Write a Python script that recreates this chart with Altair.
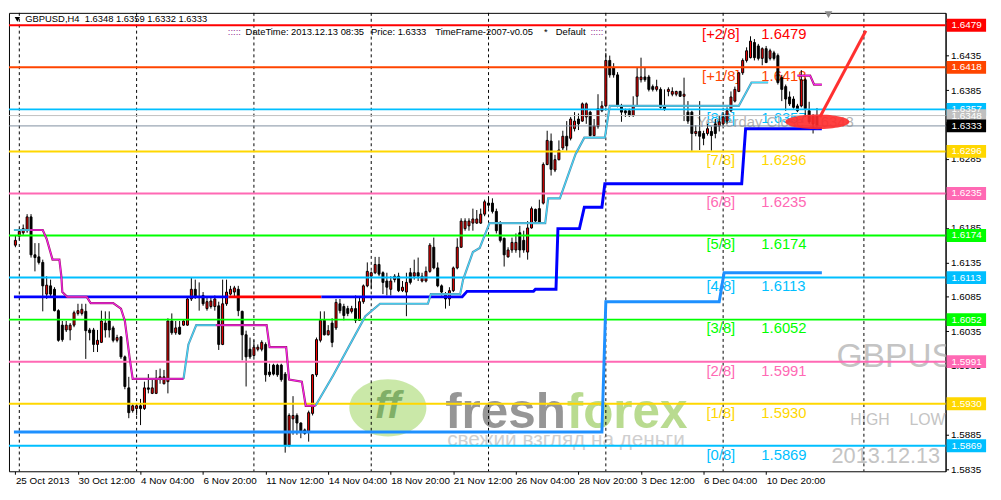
import altair as alt
import pandas as pd

# ---------------- data ----------------
opens = [
1.6160,1.6173,1.6178,1.6181,1.6201,1.6146,1.6143,1.6135,1.6089,1.6101,
1.6096,1.6065,1.6044,1.6037,1.6037,1.6044,1.6061,1.6061,1.6064,1.6037,
1.6037,1.6016,1.6019,1.6047,1.6050,1.6040,1.6022,1.6027,1.5998,1.5953,
1.5920,1.5923,1.5927,1.5923,1.5953,1.5945,1.5945,1.5965,1.5959,1.5962,
1.6050,1.6033,1.6041,1.6044,1.6044,1.6082,1.6096,1.6085,1.6087,1.6068,
1.6071,1.6071,1.6072,1.6016,1.6075,1.6089,1.6092,1.6096,1.6064,1.6030,
1.6009,1.6000,1.6009,1.6009,1.6016,1.5976,1.5986,1.5986,1.5986,1.5973,
1.5870,1.5908,1.5913,1.5902,1.5892,1.5889,1.5916,1.5972,1.6022,1.6051,
1.6030,1.6047,1.6040,1.6075,1.6071,1.6068,1.6064,1.6068,1.6051,1.6078,
1.6101,1.6115,1.6120,1.6132,1.6120,1.6108,1.6096,1.6110,1.6115,1.6094,
1.6092,1.6120,1.6115,1.6120,1.6108,1.6108,1.6122,1.6157,1.6127,1.6101,
1.6089,1.6082,1.6094,1.6127,1.6157,1.6184,1.6188,1.6192,1.6192,1.6192,
1.6205,1.6221,1.6221,1.6209,1.6191,1.6170,1.6143,1.6153,1.6153,1.6178,
1.6167,1.6150,1.6185,1.6212,1.6213,1.6221,1.6277,1.6311,1.6269,1.6284,
1.6301,1.6318,1.6315,1.6329,1.6343,1.6340,1.6346,1.6353,1.6319,1.6332,
1.6355,1.6362,1.6428,1.6417,1.6407,1.6362,1.6355,1.6355,1.6348,1.6376,
1.6400,1.6404,1.6404,1.6390,1.6386,1.6386,1.6362,1.6383,1.6379,1.6379,
1.6383,1.6376,1.6353,1.6353,1.6322,1.6325,1.6322,1.6322,1.6325,1.6336,
1.6333,1.6336,1.6340,1.6355,1.6369,1.6383,1.6410,1.6428,1.6432,1.6454,
1.6449,1.6431,1.6445,1.6431,1.6439,1.6435,1.6403,1.6390,1.6375,1.6372,
1.6362,1.6362,1.6400,1.6355,1.6336,1.6348]

highs = [
1.6174,1.6184,1.6190,1.6205,1.6205,1.6163,1.6163,1.6139,1.6115,1.6110,
1.6099,1.6067,1.6050,1.6050,1.6047,1.6065,1.6075,1.6075,1.6075,1.6040,
1.6040,1.6037,1.6065,1.6064,1.6064,1.6043,1.6030,1.6028,1.6000,1.5969,
1.5931,1.5931,1.5937,1.5962,1.5973,1.5965,1.5979,1.5981,1.5979,1.6054,
1.6061,1.6050,1.6050,1.6051,1.6085,1.6113,1.6110,1.6106,1.6092,1.6085,
1.6085,1.6087,1.6078,1.6110,1.6110,1.6101,1.6101,1.6101,1.6065,1.6036,
1.6026,1.6022,1.6016,1.6022,1.6019,1.5988,1.5988,1.5988,1.5988,1.5976,
1.5916,1.5941,1.5916,1.5903,1.5894,1.5920,1.5973,1.6026,1.6064,1.6064,
1.6044,1.6054,1.6082,1.6082,1.6075,1.6072,1.6072,1.6087,1.6085,1.6103,
1.6135,1.6122,1.6143,1.6143,1.6122,1.6120,1.6115,1.6118,1.6120,1.6108,
1.6120,1.6127,1.6139,1.6142,1.6120,1.6129,1.6163,1.6171,1.6135,1.6103,
1.6092,1.6099,1.6129,1.6170,1.6199,1.6199,1.6199,1.6213,1.6211,1.6213,
1.6226,1.6231,1.6228,1.6213,1.6195,1.6171,1.6157,1.6171,1.6177,1.6188,
1.6181,1.6195,1.6216,1.6213,1.6226,1.6280,1.6326,1.6322,1.6291,1.6312,
1.6326,1.6340,1.6346,1.6353,1.6351,1.6367,1.6367,1.6355,1.6343,1.6379,
1.6369,1.6439,1.6435,1.6424,1.6411,1.6365,1.6358,1.6358,1.6376,1.6417,
1.6432,1.6417,1.6407,1.6393,1.6400,1.6389,1.6386,1.6389,1.6389,1.6384,
1.6384,1.6403,1.6369,1.6355,1.6334,1.6369,1.6326,1.6336,1.6332,1.6343,
1.6348,1.6353,1.6360,1.6383,1.6390,1.6411,1.6431,1.6447,1.6463,1.6459,
1.6452,1.6447,1.6449,1.6445,1.6442,1.6438,1.6407,1.6393,1.6383,1.6376,
1.6365,1.6414,1.6403,1.6368,1.6350,1.6359]

lows = [
1.6157,1.6168,1.6175,1.6178,1.6142,1.6122,1.6132,1.6064,1.6082,1.6085,
1.6064,1.6020,1.6020,1.6034,1.6022,1.6041,1.6058,1.6058,1.5995,1.6022,
1.6005,1.6005,1.6018,1.6026,1.6026,1.6019,1.6019,1.5995,1.5951,1.5909,
1.5917,1.5913,1.5899,1.5921,1.5945,1.5944,1.5944,1.5959,1.5958,1.5945,
1.6030,1.6030,1.6030,1.6043,1.6043,1.6079,1.6082,1.6065,1.6072,1.6065,
1.6068,1.6065,1.6008,1.6015,1.6072,1.6087,1.6085,1.6057,1.5993,1.5955,
1.5995,1.5998,1.6006,1.6006,1.5962,1.5969,1.5971,1.5969,1.5962,1.5859,
1.5867,1.5885,1.5885,1.5880,1.5885,1.5875,1.5913,1.5969,1.6019,1.6029,
1.6029,1.6012,1.6037,1.6061,1.6051,1.6057,1.6061,1.6047,1.6050,1.6075,
1.6099,1.6096,1.6118,1.6115,1.6089,1.6087,1.6087,1.6106,1.6092,1.6092,
1.6057,1.6103,1.6110,1.6108,1.6106,1.6106,1.6120,1.6125,1.6099,1.6087,
1.6068,1.6072,1.6092,1.6125,1.6156,1.6181,1.6181,1.6181,1.6191,1.6191,
1.6202,1.6213,1.6206,1.6177,1.6164,1.6129,1.6142,1.6149,1.6149,1.6142,
1.6149,1.6139,1.6184,1.6192,1.6191,1.6219,1.6276,1.6261,1.6266,1.6283,
1.6298,1.6297,1.6312,1.6325,1.6327,1.6339,1.6336,1.6318,1.6318,1.6329,
1.6353,1.6360,1.6403,1.6403,1.6360,1.6339,1.6346,1.6346,1.6346,1.6362,
1.6396,1.6397,1.6383,1.6383,1.6383,1.6358,1.6355,1.6376,1.6376,1.6376,
1.6375,1.6340,1.6336,1.6297,1.6318,1.6298,1.6305,1.6319,1.6297,1.6315,
1.6325,1.6333,1.6336,1.6353,1.6367,1.6382,1.6407,1.6425,1.6431,1.6428,
1.6428,1.6421,1.6424,1.6428,1.6428,1.6393,1.6369,1.6355,1.6362,1.6358,
1.6353,1.6360,1.6346,1.6336,1.6322,1.6332]

closes = [
1.6167,1.6180,1.6184,1.6201,1.6146,1.6142,1.6135,1.6101,1.6102,1.6089,
1.6065,1.6022,1.6023,1.6044,1.6044,1.6062,1.6065,1.6067,1.6036,1.6033,
1.6016,1.6022,1.6050,1.6037,1.6037,1.6022,1.6026,1.5998,1.5955,1.5917,
1.5927,1.5927,1.5923,1.5953,1.5951,1.5953,1.5967,1.5969,1.5969,1.6050,
1.6033,1.6040,1.6031,1.6050,1.6082,1.6096,1.6085,1.6084,1.6075,1.6078,
1.6079,1.6082,1.6016,1.6075,1.6092,1.6096,1.6098,1.6065,1.6030,1.5998,
1.5998,1.6012,1.6012,1.6019,1.5972,1.5972,1.5973,1.5972,1.5965,1.5870,
1.5913,1.5913,1.5902,1.5889,1.5887,1.5917,1.5972,1.6023,1.6051,1.6030,
1.6036,1.6019,1.6077,1.6065,1.6058,1.6061,1.6068,1.6051,1.6078,1.6101,
1.6122,1.6120,1.6132,1.6118,1.6106,1.6099,1.6108,1.6115,1.6094,1.6099,
1.6106,1.6106,1.6120,1.6115,1.6115,1.6122,1.6160,1.6127,1.6101,1.6092,
1.6082,1.6094,1.6127,1.6157,1.6195,1.6195,1.6195,1.6198,1.6198,1.6205,
1.6223,1.6218,1.6209,1.6181,1.6167,1.6146,1.6153,1.6164,1.6164,1.6153,
1.6153,1.6185,1.6213,1.6195,1.6192,1.6277,1.6312,1.6270,1.6284,1.6298,
1.6318,1.6304,1.6343,1.6340,1.6336,1.6365,1.6365,1.6319,1.6333,1.6358,
1.6362,1.6428,1.6407,1.6407,1.6362,1.6353,1.6352,1.6348,1.6362,1.6404,
1.6404,1.6400,1.6386,1.6386,1.6390,1.6360,1.6358,1.6386,1.6383,1.6383,
1.6376,1.6379,1.6340,1.6322,1.6325,1.6318,1.6315,1.6329,1.6319,1.6322,
1.6339,1.6346,1.6355,1.6375,1.6386,1.6410,1.6428,1.6442,1.6456,1.6432,
1.6431,1.6445,1.6425,1.6442,1.6431,1.6396,1.6386,1.6372,1.6365,1.6360,
1.6355,1.6400,1.6358,1.6339,1.6347,1.6333]

x_labels = ["25 Oct 2013", "30 Oct 12:00", "4 Nov 04:00", "6 Nov 20:00", "11 Nov 12:00",
            "14 Nov 04:00", "18 Nov 20:00", "21 Nov 12:00", "26 Nov 04:00", "28 Nov 20:00",
            "3 Dec 12:00", "6 Dec 04:00", "10 Dec 20:00"]
x_label_bars = [0, 16, 32, 48, 64, 80, 96, 112, 128, 144, 160, 176, 192]
y_ticks = [1.5835, 1.5885, 1.5935, 1.5985, 1.6035, 1.6085, 1.6135, 1.6185, 1.6235,
           1.6285, 1.6335, 1.6385, 1.6435, 1.6485]
grid_bars = [1, 31, 61, 91, 121, 151, 181, 217]

levels = [1.6479, 1.6418, 1.6357, 1.6296, 1.6235, 1.6174, 1.6113, 1.6052, 1.5991, 1.5930, 1.5869]
level_names = ["[+2/8]", "[+1/8]", "[8/8]", "[7/8]", "[6/8]", "[5/8]", "[4/8]", "[3/8]", "[2/8]", "[1/8]", "[0/8]"]
level_colors = ["#ff0000", "#ff4500", "#00bfff", "#ffd700", "#ff69b4", "#00ff00",
                "#00bfff", "#00ff00", "#ff69b4", "#ffd700", "#00bfff"]

yesterday_close = 1.6348
last_price = 1.6333

# thick pivot line (blue / red part) and dodger-blue line
pivot_a_bars = [-0.375, 54.5]
pivot_a_prices = [1.6085, 1.6085]
pivot_red_bars = [54.5, 78.25]
pivot_red_prices = [1.6085, 1.6085]
pivot_b_bars = [78.25, 114.25, 115.5, 132.5, 133, 138.25, 138.75, 144.25, 145.5, 150, 150.75, 185.75, 186.75, 206.25]
pivot_b_prices = [1.6085, 1.6085, 1.6093, 1.6093, 1.6096, 1.6096, 1.6184, 1.6184, 1.6215, 1.6215, 1.6249, 1.6249, 1.6329, 1.6329]
dodger_bars = [-0.375, 150, 151, 180, 181.25, 206.25]
dodger_prices = [1.5889, 1.5889, 1.6078, 1.6078, 1.6120, 1.6120]

# thin trailing lines (cyan = support, magenta = resistance)
cyan1_bars = [-0.375, 3.75]
cyan1_prices = [1.6182, 1.6182]
cyan2_bars = [43, 44.25, 46.25, 51.25]
cyan2_prices = [1.5966, 1.6016, 1.6044, 1.6044]
cyan3_bars = [76.75, 81.25, 89.5, 93.25, 105.5, 106.25, 113.75, 114.5, 117, 118.75, 121.25, 135.5,
              136.25, 139.25, 143.25, 145.5, 150.75, 152, 185, 188.25, 192.5]
cyan3_prices = [1.5927, 1.5971, 1.6057, 1.6075, 1.6075, 1.6089, 1.6089, 1.6110, 1.6150, 1.6156, 1.6192, 1.6192,
                1.6228, 1.6228, 1.6292, 1.6316, 1.6316, 1.6362, 1.6362, 1.6396, 1.6396]
mag1_bars = [3.75, 7, 8, 9.5, 11.25, 11.75, 12, 13.25, 18.25, 19.25, 25, 27, 28, 29.25, 30, 43]
mag1_prices = [1.6182, 1.6182, 1.6169, 1.6139, 1.6139, 1.6115, 1.6092, 1.6085, 1.6085, 1.6076, 1.6076,
               1.6068, 1.6050, 1.5995, 1.5966, 1.5966]
mag2_bars = [51.25, 64.25, 65, 69.25, 70, 73.25, 74.25, 76.75]
mag2_prices = [1.6044, 1.6044, 1.6012, 1.6012, 1.5965, 1.5962, 1.5927, 1.5927]
mag3_bars = [200, 203.25, 204.25, 206.25]
mag3_prices = [1.6406, 1.6406, 1.6393, 1.6393]

# hand-drawn annotation: arrow stroke and ellipse
arrow_bars = [205.75, 217.5]
arrow_prices = [1.6346, 1.6471]
ellipse_bar = [205.1]
ellipse_price = [1.6339]

# ---------------- layout ----------------
W, H = 948, 464
xs = alt.Scale(domain=[-0.375, 236.625], nice=False, zero=False)
ys = alt.Scale(domain=[1.5832, 1.6497], nice=False, zero=False)
FONT = "Liberation Sans"


def PX(X):
    return X - 3.5


def PY(Y):
    return 12.56 + (Y - 19) * 0.9852


label_expr = "[" + ",".join("'" + s + "'" for s in x_labels) + "][round(datum.value / 16)]"
x_axis = alt.Axis(values=x_label_bars, labelExpr=label_expr, labelAlign="left", labelFlush=False,
                  labelOverlap=False, tickSize=3, labelPadding=1, labelFontSize=10, labelFont=FONT,
                  labelColor="black", tickColor="black", domain=False, grid=False, title=None)
y_axis = alt.Axis(orient="right", values=y_ticks, format=".4f", tickSize=3, labelPadding=2,
                  labelFontSize=10, labelFont=FONT, labelColor="black", tickColor="black",
                  domainColor="black", grid=False, labelOverlap=False, labelFlush=False, title=None)


def XE(field):
    return alt.X(field, type="quantitative", scale=xs, axis=x_axis, title=None)


def YE(field):
    return alt.Y(field, type="quantitative", scale=ys, axis=y_axis, title=None)


one = pd.DataFrame({"t": [""]})


def label(text, X, Y, size, color, align="left", baseline="middle", weight="normal",
          opacity=1.0, clip=False, style="normal"):
    return alt.Chart(pd.DataFrame({"t": [text]})).mark_text(
        align=align, baseline=baseline, fontSize=size, color=color, font=FONT,
        fontWeight=weight, opacity=opacity, clip=clip, fontStyle=style
    ).encode(text="t:N", x=alt.value(PX(X)), y=alt.value(PY(Y)))


def poly(bars, prices, color, width, opacity=1.0):
    d = pd.DataFrame({"i": bars, "p": prices, "k": list(range(len(bars)))})
    return alt.Chart(d).mark_line(color=color, strokeWidth=width, opacity=opacity, clip=True).encode(
        x=XE("i"), y=YE("p"), order="k:Q")


layers = []

# candles first (carry the axes)
cdf = pd.DataFrame({"i": list(range(len(opens))), "o": opens, "h": highs, "l": lows, "c": closes})
wicks = alt.Chart(cdf).mark_rule(color="black", strokeWidth=1).encode(x=XE("i"), y=YE("l"), y2="h:Q")
bodies = alt.Chart(cdf).mark_bar(size=2, stroke="black", strokeWidth=1).encode(
    x=XE("i"), y=YE("o"), y2="c:Q",
    fill=alt.condition("datum.c > datum.o", alt.value("#ff0000"), alt.value("#000000")))

# watermarks
layers.append(label("GBPUSD", 841, 360, 34, "#c4c4c4", clip=True))
layers.append(label("HIGH", 855, 425, 16, "#c4c4c4"))
layers.append(label("LOW", 915, 425, 16, "#c4c4c4"))
layers.append(label("2013.12.13 08:35", 836, 462, 22, "#c4c4c4", clip=True))
ellipse_logo = "M -1 0 A 1 0.744 0 1 0 1 0 A 1 0.744 0 1 0 -1 0 Z"
layers.append(alt.Chart(one).mark_point(shape=ellipse_logo, size=78 * 78, filled=True, color="#a6d86e",
                                        opacity=0.6).encode(x=alt.value(PX(387)), y=alt.value(PY(412))))
layers.append(label("ff", 387, 410, 40, "#4f8a3c", align="center", weight="bold", opacity=0.6, style="italic"))
layers.append(label("fresh", 445, 433, 50, "#6a6a6a", baseline="alphabetic", weight="bold", opacity=0.7))
layers.append(label("forex", 568, 433, 50, "#9ccd62", baseline="alphabetic", weight="bold", opacity=0.7))
layers.append(label("свежий взгляд на деньги", 447, 445, 21, "#cfcfcf"))

# vertical dashed grid
grid_df = pd.DataFrame({"i": grid_bars})
layers.append(alt.Chart(grid_df).mark_rule(color="black", strokeWidth=1, strokeDash=[3, 3]).encode(x=XE("i")))

# level labels
lv = pd.DataFrame({"p": levels, "name": level_names, "col": level_colors,
                   "val": [f"{v:.4f}" for v in levels]})
layers.append(alt.Chart(lv).mark_text(align="center", baseline="middle", dy=9, fontSize=15, font=FONT).encode(
    y=YE("p"), x=alt.value(PX(724)), text="name:N", color=alt.Color("col:N", scale=None)))
layers.append(alt.Chart(lv).mark_text(align="left", baseline="middle", dy=9, fontSize=15, font=FONT).encode(
    y=YE("p"), x=alt.value(PX(765)), text="val:N", color=alt.Color("col:N", scale=None)))
yc = pd.DataFrame({"p": [yesterday_close], "t": [f"Yesterday Close {yesterday_close:.4f}"]})
layers.append(alt.Chart(yc).mark_text(align="left", baseline="middle", dy=7, fontSize=15, font=FONT,
                                      color="#b4b4b4").encode(y=YE("p"), x=alt.value(PX(700)), text="t:N"))

layers.append(wicks)
layers.append(bodies)

# level lines
layers.append(alt.Chart(lv).mark_rule(strokeWidth=2).encode(y=YE("p"), color=alt.Color("col:N", scale=None)))
gl = pd.DataFrame({"p": [yesterday_close, last_price], "col": ["#c0c0c0", "#7f8fa0"]})
layers.append(alt.Chart(gl).mark_rule(strokeWidth=1).encode(y=YE("p"), color=alt.Color("col:N", scale=None)))

# pivot lines
layers.append(poly(dodger_bars, dodger_prices, "#1e90ff", 3))
layers.append(poly(pivot_a_bars, pivot_a_prices, "#0000ff", 3))
layers.append(poly(pivot_red_bars, pivot_red_prices, "#ff0000", 3))
layers.append(poly(pivot_b_bars, pivot_b_prices, "#0000ff", 3))

# trailing lines
for b, p in [(cyan1_bars, cyan1_prices), (cyan2_bars, cyan2_prices), (cyan3_bars, cyan3_prices)]:
    layers.append(poly(b, p, "#5a8fb0", 2.2))
    layers.append(poly(b, p, "#3fe0ff", 1.0))
for b, p in [(mag1_bars, mag1_prices), (mag2_bars, mag2_prices), (mag3_bars, mag3_prices)]:
    layers.append(poly(b, p, "#a0206a", 2.2))
    layers.append(poly(b, p, "#ff22ff", 1.0))

# annotation ellipse and arrow
ell = pd.DataFrame({"i": ellipse_bar, "p": ellipse_price})
ellipse_path = "M -1 0 A 1 0.23 0 1 0 1 0 A 1 0.23 0 1 0 -1 0 Z"
layers.append(alt.Chart(ell).mark_point(shape=ellipse_path, size=65 * 65, filled=True, color="#ff2b2b",
                                        opacity=0.9).encode(x=XE("i"), y=YE("p")))
layers.append(poly(arrow_bars, arrow_prices, "#ff3030", 3))

# price boxes on the right axis
box_prices = [1.6479, 1.6418, 1.6357, yesterday_close, last_price, 1.6296, 1.6235, 1.6174,
              1.6113, 1.6052, 1.5991, 1.5930, 1.5869]
box_colors = ["#ff0000", "#ff4500", "#00bfff", "#c0c0c0", "#000000", "#ffd700", "#ff69b4", "#00ff00",
              "#00bfff", "#00ff00", "#ff69b4", "#ffd700", "#00bfff"]
bx = pd.DataFrame({"p": box_prices, "bg": box_colors, "t": [f"{v:.4f}" for v in box_prices]})
layers.append(alt.Chart(bx).mark_rule(strokeWidth=13).encode(
    y=YE("p"), x=alt.value(W + 1), x2=alt.value(W + 41), color=alt.Color("bg:N", scale=None)))
layers.append(alt.Chart(bx).mark_text(align="left", baseline="middle", fontSize=10, font=FONT,
                                      color="white").encode(y=YE("p"), x=alt.value(W + 6), text="t:N"))

# header texts
layers.append(alt.Chart(one).mark_point(shape="triangle-down", size=30, filled=True, color="black",
                                        opacity=1).encode(x=alt.value(PX(12)), y=alt.value(PY(13))))
layers.append(alt.Chart(one).mark_point(shape="triangle-down", size=60, filled=True, color="#8a8a8a",
                                        opacity=1).encode(x=alt.value(PX(833)), y=alt.value(PY(8))))
layers.append(label("GBPUSD,H4\u00a0\u00a01.6348 1.6359 1.6332 1.6333", 20, 13, 9.5, "black"))
layers.append(label(":::::", 225, 26, 9.5, "#903090"))
layers.append(label("DateTime: 2013.12.13 08:35", 243, 26, 9.5, "black"))
layers.append(label("Price: 1.6333", 370, 26, 9.5, "black"))
layers.append(label("TimeFrame-2007-v0.05", 435, 26, 9.5, "black"))
layers.append(label("*", 545, 26, 9.5, "black"))
layers.append(label("Default", 557, 26, 9.5, "black"))
layers.append(label(":::::", 592, 26, 9.5, "#903090"))

chart = alt.layer(*layers).properties(
    width=W, height=H, padding=0, background="white"
).configure_view(stroke="black", strokeWidth=1)

chart.save("out.html", embed_options={"renderer": "svg", "actions": False})
